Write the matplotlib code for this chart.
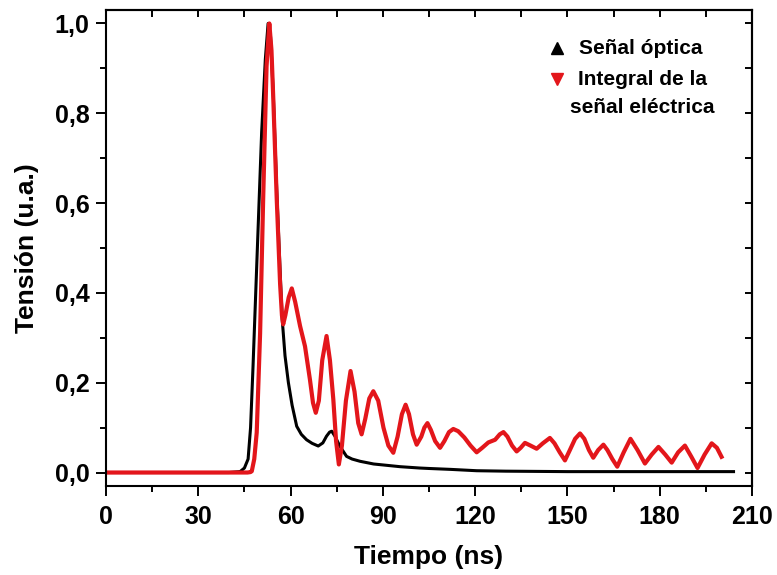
import matplotlib
matplotlib.use("Agg")
import matplotlib.pyplot as plt
from matplotlib.ticker import MultipleLocator

plt.rcParams['font.family'] = ['Liberation Sans', 'DejaVu Sans']
plt.rcParams['font.weight'] = 'bold'

# optical signal (normalised)
t_opt = [0, 20, 40, 43.6, 45, 46.2, 47, 47.8, 49, 50.6, 51.8, 52.7, 53.5, 54.4,
         55.5, 56.6, 57.3, 58.2, 59.3, 60.5, 62, 63.5, 65.2, 67, 69, 70.5, 71.7,
         72.7, 73.4, 74.5, 76, 78.2, 80, 82.6, 87, 95.6, 102, 105, 112, 120.5,
         130, 150, 170, 190, 204]
v_opt = [0, 0, 0, 0.002, 0.01, 0.03, 0.1, 0.236, 0.46, 0.757, 0.92, 1.0, 0.97, 0.84,
         0.63, 0.45, 0.34, 0.26, 0.2, 0.15, 0.103, 0.085, 0.073, 0.065, 0.059, 0.066, 0.081,
         0.09, 0.092, 0.08, 0.059, 0.036, 0.03, 0.025, 0.019, 0.013, 0.01, 0.009, 0.007, 0.004,
         0.003, 0.002, 0.002, 0.002, 0.002]

# integral of the electrical signal (normalised)
t_int = [0, 20, 40, 46, 47, 47.4, 48.2, 49, 50.1, 51.1, 52.2, 53.1, 53.8, 54.4,
         55.5, 56.6, 57.2, 57.6, 58.3, 59.4, 60.4, 61.5, 63.1, 64.7, 66.3, 67.3,
         68.2, 69.2, 70.3, 71.7, 72.8, 73.9, 74.8, 75.7, 76.7, 78, 79.5, 80.8, 82,
         83.1, 84.3, 85.6, 86.9, 88.5, 90.2, 91.8, 93.4, 94.8, 96.2, 97.4, 98.5,
         99.8, 101, 102.5, 103.5, 104.5, 105.6, 107, 108.6, 110, 111.5, 112.9,
         114.5, 116.5, 118.5, 120.5, 122.3, 124.3, 126.5, 128, 129.2, 130.5, 132,
         133.5, 134.8, 136.2, 138, 140, 142, 144.3, 145.8, 147.5, 149.2, 150.8,
         152.5, 154.1, 155.5, 157, 158.4, 160, 161.7, 163, 164.6, 166.2, 168.3,
         170.5, 172.8, 175.2, 177.4, 179.6, 181.8, 183.9, 186, 188.2, 190.3, 192.3,
         194.6, 196.9, 198.6, 200.1]
v_int = [0, 0, 0, 0, 0.001, 0.003, 0.03, 0.089, 0.31, 0.61, 0.905, 1.0, 0.94, 0.83,
         0.61, 0.42, 0.35, 0.33, 0.35, 0.39, 0.41, 0.38, 0.326, 0.281, 0.207, 0.155,
         0.133, 0.16, 0.25, 0.304, 0.25, 0.163, 0.07, 0.018, 0.06, 0.16, 0.226, 0.18, 0.11,
         0.085, 0.12, 0.165, 0.181, 0.16, 0.1, 0.06, 0.044, 0.08, 0.13, 0.151, 0.13,
         0.085, 0.062, 0.08, 0.1, 0.11, 0.095, 0.07, 0.055, 0.07, 0.09, 0.097,
         0.092, 0.078, 0.06, 0.045, 0.055, 0.067, 0.073, 0.085, 0.09, 0.08, 0.06,
         0.047, 0.055, 0.066, 0.06, 0.053, 0.065, 0.077, 0.065, 0.045, 0.027, 0.05,
         0.075, 0.087, 0.075, 0.05, 0.033, 0.05, 0.062, 0.05, 0.03, 0.013, 0.045,
         0.075, 0.05, 0.02, 0.04, 0.057, 0.04, 0.022, 0.045, 0.06, 0.035, 0.01,
         0.04, 0.065, 0.055, 0.035]

x_ticks = [0, 30, 60, 90, 120, 150, 180, 210]
y_ticks = [0.0, 0.2, 0.4, 0.6, 0.8, 1.0]
y_ticklabels = ['0,0', '0,2', '0,4', '0,6', '0,8', '1,0']

fig = plt.figure(figsize=(7.77, 5.75), dpi=100)
ax = fig.add_axes([0.1364, 0.1548, 0.8314, 0.8278])

ax.plot(t_opt, v_opt, color='black', lw=2.2, solid_joinstyle='round')
ax.plot(t_int, v_int, color='#e3161b', lw=3.0, solid_joinstyle='round')

ax.set_xlim(0, 210)
ax.set_ylim(-0.03, 1.03)
ax.set_xticks(x_ticks)
ax.set_yticks(y_ticks)
ax.set_yticklabels(y_ticklabels)
ax.xaxis.set_minor_locator(MultipleLocator(15))
ax.yaxis.set_minor_locator(MultipleLocator(0.1))
ax.tick_params(which='major', direction='out', length=7, width=1.4,
               labelsize=18, pad=5)
ax.tick_params(which='minor', direction='out', length=4.5, width=1.4)
ax.tick_params(axis='x', which='major', pad=7)
for lab in ax.get_xticklabels() + ax.get_yticklabels():
    lab.set_fontweight('bold')

for sp in ax.spines.values():
    sp.set_linewidth(1.5)

# inward ticks on the top and right frame
top = ax.secondary_xaxis('top')
top.set_xticks(x_ticks)
top.xaxis.set_minor_locator(MultipleLocator(15))
top.tick_params(which='both', direction='in', length=5, width=1.4, labeltop=False)
top.spines['top'].set_linewidth(1.5)
right = ax.secondary_yaxis('right')
right.set_yticks(y_ticks)
right.yaxis.set_minor_locator(MultipleLocator(0.1))
right.tick_params(which='both', direction='in', length=5, width=1.4, labelright=False)
right.spines['right'].set_linewidth(1.5)

ax.set_xlabel('Tiempo (ns)', fontsize=19, fontweight='bold', labelpad=11)
ax.set_ylabel('Tensión (u.a.)', fontsize=19, fontweight='bold', labelpad=11)

# legend drawn by hand: marker plus centred text
ax.plot([0.698], [0.920], marker='^', color='black', ms=9, ls='none',
        transform=ax.transAxes, clip_on=False)
ax.text(0.828, 0.920, 'Señal óptica', transform=ax.transAxes, fontsize=15,
        fontweight='bold', ha='center', va='center')
ax.plot([0.698], [0.855], marker='v', color='#e3161b', ms=9, ls='none',
        transform=ax.transAxes, clip_on=False)
ax.text(0.83, 0.824, 'Integral de la\nseñal eléctrica', transform=ax.transAxes,
        fontsize=15, fontweight='bold', ha='center', va='center',
        multialignment='center', linespacing=1.6)

fig.savefig('out.png', dpi=100)
